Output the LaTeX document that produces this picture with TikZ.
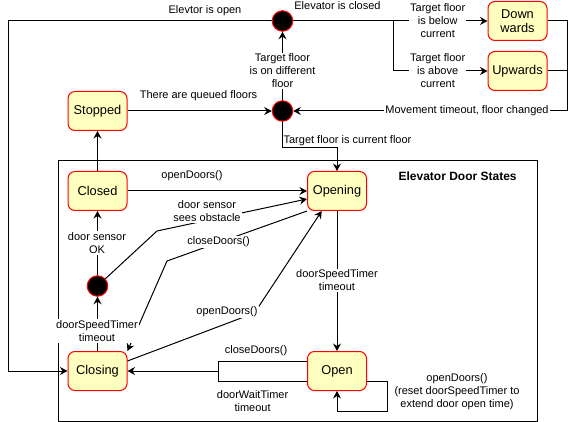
\documentclass[tikz,border=0pt]{standalone}
\usepackage{fontspec}
\setmainfont{Liberation Sans}
\usetikzlibrary{arrows.meta,calc}
\definecolor{stfill}{HTML}{FFFFC0}
\definecolor{stdraw}{HTML}{FF0000}
\begin{document}
\begin{tikzpicture}[x=1pt,y=-1pt,
  state/.style={draw=stdraw, fill=stfill, rounded corners=7pt, minimum width=59pt, minimum height=39pt, inner sep=0pt, line width=1pt, font=\fontsize{12.8}{15}\selectfont},
  dot/.style={circle, draw=stdraw, fill=black, minimum size=20.5pt, inner sep=0pt, line width=1pt},
  lbl/.style={font=\fontsize{11}{13}\selectfont, align=center, inner sep=1pt},
  wlbl/.style={lbl, fill=white},
  conn/.style={line width=1pt, -{Stealth[length=7.5pt,width=8pt,inset=2.5pt]}},
  plain/.style={line width=1pt}
]
\useasboundingbox (0,0) rectangle (576,422);
% container
\node[draw, line width=1pt, minimum width=479pt, minimum height=260pt, inner sep=0pt] (box) at (297.5,291) {};
\node[font=\bfseries\fontsize{12}{14}\selectfont] (title) at (457.6,176) {Elevator Door States};
% states
\node[state] (Stopped) at (97.5,111) {Stopped};
\node[state] (Closed) at (97.5,191) {Closed};
\node[state] (Closing) at (97.5,371) {Closing};
\node[state] (Opening) at (337,191) {Opening};
\node[state] (Open) at (337,371) {Open};
\node[state, align=center, font=\fontsize{12.8}{14}\selectfont] (Down) at (517.5,21) {Down\\wards};
\node[state] (Up) at (517.5,71) {Upwards};
\node[dot] (c1) at (282.5,21) {};
\node[dot] (c2) at (282.5,111) {};
\node[dot] (c3) at (97.5,286) {};
% helper coordinates
\coordinate (tl) at (8,21);
\coordinate (bl) at (8,371);
\coordinate (br) at (393,21);
\coordinate (rr) at (567,111);
\coordinate (k) at (337,148);
\coordinate (m) at (218,371);
% edges
\draw[conn] (c1) -- (tl) -- (bl) -- (Closing);
\draw[plain] (c1) -- (br);
\draw[conn] (br) -- (Down);
\draw[conn] (br) |- (Up);
\draw[plain] (Down.east) -| (rr);
\draw[plain] (Up.east) -- (Up.east -| rr);
\draw[conn] (rr) -- (c2);
\draw[conn] (c2) -- (c1);
\draw[conn] (Stopped) -- (c2);
\draw[conn] (c2) |- (k) -- (Opening);
\draw[conn] (Closed) -- (Stopped);
\draw[conn] (Closed) -- (Opening);
\draw[conn] (c3) -- (157,231) -- ($(Opening.west)+(0,8)$);
\draw[conn] (Opening.south west) -- (167,261) -- (Closing.north east);
\draw[conn] ($(Closing.east)+(0,-10)$) -- (254.5,313) -- ($(Opening.south)+(-15.3,0)$);
\draw[conn] (Opening) -- (Open);
\draw[plain] ($(Open.west)+(0,-10)$) -| (m);
\draw[plain] ($(Open.west)+(0,10)$) -| (m);
\draw[conn] (m) -- (Closing);
\draw[conn] ($(Open.east)+(0,10)$) -- (387,381) -- (387,411) -- (337,411) -- (Open.south);
\draw[conn] (Closing) -- (c3);
\draw[conn] (c3) -- (Closed);
% labels
\node[lbl] (l1) at (205,11) {Elevtor is open};
\node[lbl] (l2) at (337.5,6) {Elevator is closed};
\node[wlbl] (l3) at (437.7,21) {Target floor\\is below\\current};
\node[wlbl] (l4) at (437.7,71) {Target floor\\is above\\current};
\node[wlbl] (l5) at (467,111) {Movement timeout, floor changed};
\node[wlbl] (l6) at (282.5,70.7) {Target floor\\is on different\\floor};
\node[lbl] (l7) at (198.5,96) {There are queued floors};
\node[lbl] (l8) at (347.5,140.5) {Target floor is current floor};
\node[lbl] (l9) at (192,176) {openDoors()};
\node[wlbl] (l10) at (207,211) {door sensor\\sees obstacle};
\node[wlbl] (l11) at (218.5,242) {closeDoors()};
\node[wlbl] (l12) at (97,243) {door sensor\\OK};
\node[wlbl] (l13) at (337,280.5) {doorSpeedTimer\\timeout};
\node[wlbl] (l14) at (227,312) {openDoors()};
\node[wlbl] (l15) at (97,331) {doorSpeedTimer\\timeout};
\node[lbl] (l16) at (256,351) {closeDoors()};
\node[lbl] (l17) at (252.6,401) {doorWaitTimer\\timeout};
\node[lbl] (l18) at (457,391.5) {openDoors()\\(reset doorSpeedTimer to\\extend door open time)};
\end{tikzpicture}
\end{document}
